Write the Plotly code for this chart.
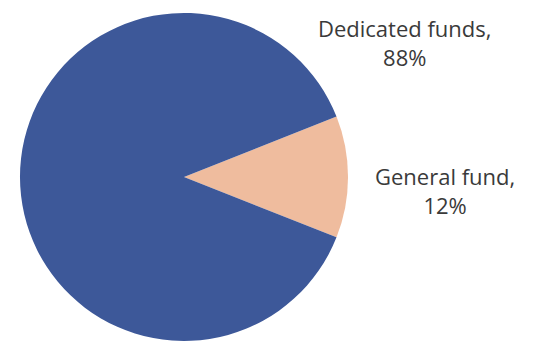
import plotly.graph_objects as go

labels = ["General fund", "Dedicated funds"]
values = [12, 88]
colors = ["#efbc9e", "#3d5899"]
label_text = ["General fund,<br>12%", "Dedicated funds,<br>88%"]
label_pos = [(445, 191), (405, 42)]  # pixel centers

W, H = 533, 341

fig = go.Figure(go.Pie(
    labels=labels, values=values, sort=False, direction="clockwise",
    rotation=90 - values[0] / 100 * 360 / 2,
    marker=dict(colors=colors, line=dict(width=0)),
    textinfo="none", hoverinfo="label+percent", showlegend=False,
    domain=dict(x=[16 / W, 352 / W], y=[0, 0.962]),
))

for t, (px, py) in zip(label_text, label_pos):
    fig.add_annotation(x=px / W, y=1 - py / H, xref="paper", yref="paper",
                       xanchor="center", yanchor="middle",
                       text=t, showarrow=False, align="center",
                       font=dict(family="Open Sans, sans-serif", size=22, color="#3a3a3a"))

fig.update_layout(width=W, height=H, margin=dict(l=0, r=0, t=0, b=0),
                  paper_bgcolor="white", plot_bgcolor="white")
fig.write_html("out.html")
